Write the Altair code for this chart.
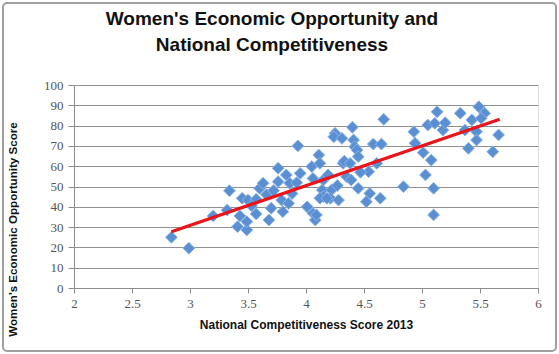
import altair as alt
import pandas as pd

# National Competitiveness Score 2013 (x) and Women's Economic Opportunity Score (y)
nc_score = [2.84, 2.99, 3.20, 3.32, 3.34, 3.41, 3.43, 3.45, 3.49, 3.49, 3.50, 3.57, 3.57, 3.60,
            3.63, 3.68, 3.70, 3.76, 3.76, 3.79, 3.80, 3.83, 3.85, 3.86, 3.92, 4.01, 4.06, 4.08,
            4.06, 4.05, 4.11, 4.12, 4.14, 4.15, 4.22, 4.21, 4.28, 4.32, 3.93, 4.67, 4.25, 4.24,
            4.31, 4.40, 4.41, 4.42, 4.44, 4.45, 4.58, 4.65, 4.33, 4.38, 4.54, 4.61, 4.93, 4.94,
            5.01, 5.03, 5.10, 5.10, 4.84, 5.05, 5.11, 5.13, 5.18, 5.20, 5.33, 5.43, 5.49, 5.54,
            5.51, 5.37, 5.47, 5.47, 5.40, 5.61, 5.66, 4.55, 4.64, 4.52, 4.45, 4.12, 4.18, 4.09,
            4.15, 4.19, 4.35, 4.39, 3.53, 3.66, 3.72, 3.88, 3.95, 4.27, 4.47, 5.08]
weo_score = [25.0, 19.6, 35.5, 38.4, 47.9, 30.2, 35.5, 44.2, 28.6, 32.7, 43.3, 36.5, 43.7, 49.1,
             51.6, 33.5, 39.3, 59.0, 52.4, 43.3, 37.6, 55.7, 41.7, 51.6, 51.9, 40.0, 36.8, 33.5,
             54.0, 59.8, 65.5, 61.4, 48.3, 45.0, 48.3, 44.2, 43.3, 61.4, 70.0, 83.1, 76.2, 74.5,
             73.7, 79.2, 72.9, 69.6, 68.0, 64.7, 70.9, 70.9, 62.5, 61.4, 57.3, 61.4, 77.0, 71.3,
             66.7, 55.7, 49.1, 36.0, 49.9, 80.3, 81.1, 86.8, 77.8, 81.4, 86.1, 82.8, 89.3, 86.1,
             83.6, 77.8, 77.0, 72.9, 68.8, 67.1, 75.4, 46.6, 44.2, 42.5, 49.1, 44.2, 44.2, 36.0,
             53.2, 55.7, 54.8, 53.2, 40.5, 46.0, 48.0, 46.5, 56.5, 50.5, 57.0, 63.0]

# Tick labels
x_ticks = [2, 2.5, 3, 3.5, 4, 4.5, 5, 5.5, 6]
y_ticks = [0, 10, 20, 30, 40, 50, 60, 70, 80, 90, 100]

# Linear trend line end points
trend_x = [2.84, 5.67]
trend_y = [27.7, 83.1]

pts = pd.DataFrame({"x": nc_score, "y": weo_score})
trend = pd.DataFrame({"x": trend_x, "y": trend_y})

W, H = 464, 203

xscale = alt.Scale(domain=[2, 6], nice=False, zero=False)
yscale = alt.Scale(domain=[0, 100], nice=False)

xaxis = alt.Axis(
    values=x_ticks, format="~g", grid=False,
    title="National Competitiveness Score 2013", titleFont="Liberation Sans",
    titleFontSize=12, titleFontWeight="bold", titleColor="#111111", titlePadding=9,
    labelFont="Liberation Serif", labelFontSize=13, labelColor="#555555", labelPadding=4,
    tickSize=5, tickColor="#8c8c8c", domainColor="#8c8c8c", labelFlush=False,
    labelOverlap=False,
)
yaxis = alt.Axis(
    values=y_ticks, grid=True, gridColor="#909090", gridWidth=1.2,
    title="Women's Economic Opportunity Score", titleFont="Liberation Sans",
    titleFontSize=11.6, titleFontWeight="bold", titleColor="#111111",
    titleAngle=-90, titleX=-61, titleY=144, titleAlign="center", titleBaseline="middle",
    labelFont="Liberation Serif", labelFontSize=13, labelColor="#555555", labelPadding=5,
    tickSize=6, tickColor="#8c8c8c", domainColor="#8c8c8c", labelOverlap=False,
    labelFlush=False,
)

points = alt.Chart(pts).mark_point(
    shape="diamond", filled=True, size=140, fill="#5a8fd2", stroke="#8db4e6",
    strokeWidth=1, opacity=1,
).encode(
    x=alt.X("x:Q", scale=xscale, axis=xaxis),
    y=alt.Y("y:Q", scale=yscale, axis=yaxis),
)

line = alt.Chart(trend).mark_line(color="#e8151b", strokeWidth=3.2).encode(
    x=alt.X("x:Q", scale=xscale, axis=xaxis),
    y=alt.Y("y:Q", scale=yscale, axis=yaxis),
)

border = alt.Chart(pd.DataFrame({"a": [0]})).mark_rect(
    fill=None, stroke="#a0a0a0", strokeWidth=2, cornerRadius=4, clip=False,
).encode(
    x=alt.value(-71), x2=alt.value(W + 18), y=alt.value(-82), y2=alt.value(H + 63),
)

chart = alt.layer(border, points, line).properties(
    width=W, height=H,
    title=alt.TitleParams(
        text=["Women's Economic Opportunity and", "National Competitiveness"],
        font="Liberation Sans", fontSize=19, fontWeight="bold", color="#111111",
        anchor="middle", dx=-34, offset=-53, lineHeight=26,
    ),
    autosize=alt.AutoSizeParams(type="none"),
    padding={"left": 74, "top": 85, "right": 21, "bottom": 66},
).configure_view(stroke=None).configure(background="white")

chart.save("out.html", embed_options={"renderer": "svg", "actions": False})
